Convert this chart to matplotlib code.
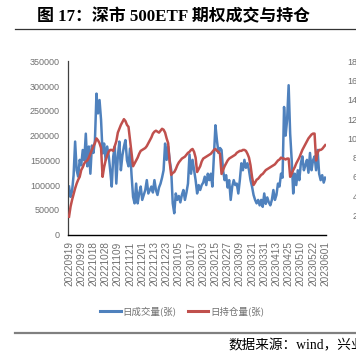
import matplotlib
matplotlib.use("Agg")
import matplotlib.pyplot as plt
from matplotlib.lines import Line2D

plt.rcParams['font.family'] = ['Liberation Sans', 'Noto Sans CJK SC', 'DejaVu Sans']

tick_labels = ["20220919", "20220929", "20221018", "20221028", "20221109", "20221121",
               "20221201", "20221213", "20221223", "20230105", "20230117", "20230203",
               "20230215", "20230227", "20230309", "20230321", "20230331", "20230413",
               "20230425", "20230510", "20230522", "20230601"]
tick_step = 8

# daily volume (thousand contracts)
volume_k = [97, 76, 88, 120, 188, 130, 117, 151, 140, 171, 150, 204, 138, 178, 123, 180,
            165, 191, 285, 245, 272, 232, 164, 184, 151, 178, 160, 130, 97, 158, 178, 103,
            158, 188, 130, 160, 178, 191, 150, 138, 174, 120, 76, 63, 103, 63, 83, 97,
            70, 80, 90, 110, 83, 90, 97, 85, 110, 90, 80, 95, 103, 115, 130, 184,
            151, 178, 150, 130, 63, 43, 83, 70, 78, 65, 80, 90, 70, 85, 103, 162,
            123, 151, 130, 110, 83, 100, 90, 100, 105, 117, 100, 123, 110, 123, 97, 158,
            221, 190, 165, 175, 171, 130, 110, 120, 95, 110, 70, 97, 110, 100, 103, 83,
            110, 144, 130, 151, 135, 144, 130, 110, 97, 80, 70, 63, 70, 59, 70, 56,
            83, 62, 75, 65, 59, 70, 90, 70, 80, 103, 97, 123, 115, 258, 200, 232,
            302, 204, 151, 83, 123, 100, 130, 110, 144, 158, 130, 140, 151, 125, 165, 130,
            150, 158, 130, 171, 123, 110, 120, 105, 115]

# daily open interest (thousand contracts)
oi_k = [18.5, 29, 36, 42, 48, 53, 57, 60, 67, 70, 74, 76, 77, 80, 84, 88,
        92, 95, 100, 98, 95, 90, 60, 70, 77, 82, 86, 88, 88, 87, 92, 97,
        106, 110, 114, 117, 120, 118, 114, 112, 98, 85, 71, 74, 77, 80, 84, 87,
        88, 89, 90, 92, 95, 98, 101, 105, 107, 108, 107, 106, 108, 110, 109, 106,
        100, 95, 75, 62, 64, 65, 68, 72, 75, 77, 79, 80, 81, 83, 85, 86,
        88, 89, 86, 80, 65, 68, 71, 76, 79, 80, 81, 82, 83, 84, 86, 88,
        89, 87, 86, 84, 63, 67, 71, 74, 77, 79, 80, 81, 82, 83, 85, 86,
        87, 87, 88, 88, 87, 84, 80, 72, 60, 51.5, 54, 57, 58, 60, 62, 63,
        65, 67, 68, 69, 70, 71, 72, 73, 75, 77, 78, 80, 79, 79, 78, 79,
        79, 60, 63, 67, 70, 74, 77, 80, 84, 88, 91, 94, 97, 100, 102, 104,
        105, 105, 77, 85, 88, 88, 89, 91, 93]

volume = [v * 1000 for v in volume_k]
oi = [v * 1000 for v in oi_k]
x = list(range(len(volume)))

W, H = 356, 354
fig = plt.figure(figsize=(W / 100, H / 100), dpi=100)
ax = fig.add_axes([67.5 / W, 1 - 234.5 / H, (326 - 67.5) / W, (234.5 - 61.5) / H])
ax2 = ax.twinx()

blue = '#4F81BD'
red = '#C0504D'
label_gray = '#707070'
ax.plot(x, volume, color=blue, lw=1.8, solid_joinstyle='round', zorder=2)
ax2.plot(x, oi, color=red, lw=1.8, solid_joinstyle='round', zorder=3)

ax.set_xlim(-1.0, len(volume) - 0.5)
ax.set_ylim(0, 350000)
ax2.set_ylim(0, 180000)
ax.set_yticks(range(0, 350001, 50000))
ax2.set_yticks(range(20000, 180001, 20000))

ax.set_xticks([i * tick_step for i in range(len(tick_labels))])
ax.set_xticklabels(tick_labels, rotation=90, fontsize=7.2, color=label_gray)
ax.tick_params(axis='x', length=0, pad=5)
ax.tick_params(axis='y', length=0, pad=5.5, labelsize=6.5, labelcolor=label_gray)
ax2.tick_params(axis='y', length=0, pad=37, labelsize=6.5, labelcolor=label_gray)
for lab in ax2.get_yticklabels():
    lab.set_horizontalalignment('right')

for a in (ax, ax2):
    for s in ('top', 'right', 'left', 'bottom'):
        a.spines[s].set_visible(False)
ax.spines['left'].set_visible(True)
ax.spines['bottom'].set_visible(True)
ax.spines['left'].set_color('#404040')
ax.spines['bottom'].set_color('#000000')
ax.spines['left'].set_linewidth(0.9)
ax.spines['bottom'].set_linewidth(1.0)

handles = [Line2D([0], [0], color=blue, lw=2.2), Line2D([0], [0], color=red, lw=2.2)]
fig.legend(handles, ['日成交量(张)', '日持仓量(张)'], loc='center',
           bbox_to_anchor=(182 / W, 1 - 311 / H), ncol=2, frameon=False,
           prop={'family': ['Noto Sans CJK SC'], 'size': 6.8}, labelcolor=label_gray,
           handlelength=2.2, handletextpad=0.15, columnspacing=1.2)

fig.text(37 / W, 1 - 17.5 / H, '图 17：深市 500ETF 期权成交与持仓', ha='left', va='center',
         fontsize=12.2, fontweight='bold', color='#000000',
         family=['Liberation Serif', 'Noto Sans CJK SC'])
fig.add_artist(Line2D([15 / W, 1.0], [1 - 28.5 / H, 1 - 28.5 / H], color='#333333', lw=0.9))
fig.add_artist(Line2D([15 / W, 1.0], [1 - 333 / H, 1 - 333 / H], color='#808080', lw=1.6))
fig.text(228 / W, 1 - 346 / H, '数据来源：wind，兴业证券经济与金融研究院整理', ha='left', va='center',
         fontsize=9.8, color='#000000', family=['Liberation Serif', 'Noto Sans CJK SC'])

fig.savefig('out.png', dpi=100)
